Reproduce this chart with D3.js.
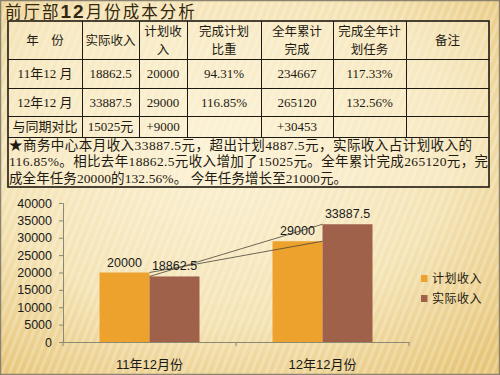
<!DOCTYPE html>
<html>
<head>
<meta charset="utf-8">
<script src="https://cdn.jsdelivr.net/npm/d3@7"></script>
<style>
  html, body { margin: 0; padding: 0; background: #f3e4b8; }
  svg { display: block; }
</style>
</head>
<body>
<svg id="chart"></svg>
<script>
// chart data
const categories = ["11年12月份", "12年12月份"];
const seriesNames = ["计划收入", "实际收入"];
const planned = [20000, 29000];
const actual = [18862.5, 33887.5];
const seriesColors = ["#eea22e", "#a0614b"];

// table data
const titleText = ["前厅部", "12", "月份成本分析"];
const tableHeader = [["年　份"], ["实际收入"], ["计划收", "入"], ["完成计划", "比重"], ["全年累计", "完成"], ["完成全年计", "划任务"], ["备注"]];
const tableRows = [
  ["11年12 月", "18862.5", "20000", "94.31%", "234667", "117.33%", ""],
  ["12年12 月", "33887.5", "29000", "116.85%", "265120", "132.56%", ""],
  ["与同期对比", "15025元", "+9000", "", "+30453", "", ""]
];
const noteLines = [
  "★商务中心本月收入33887.5元，超出计划4887.5元，实际收入占计划收入的",
  "116.85%。相比去年18862.5元收入增加了15025元。全年累计完成265120元，完",
  "成全年任务20000的132.56%。 今年任务增长至21000元。"
];

const width = 500, height = 375;
const cjk = "'Noto Sans CJK SC', sans-serif";
const tableFont = "'Liberation Serif', 'Noto Sans CJK SC', serif";
const chartFont = "'Liberation Sans', 'Noto Sans CJK SC', sans-serif";

const svg = d3.select("#chart")
  .attr("width", width)
  .attr("height", height)
  .attr("viewBox", [0, 0, width, height]);

// background: warm gradient + faint diagonal stripes
const defs = svg.append("defs");
const grad = defs.append("radialGradient")
  .attr("id", "bg").attr("cx", "45%").attr("cy", "40%").attr("r", "75%");
grad.append("stop").attr("offset", "0%").attr("stop-color", "#fbf1d3");
grad.append("stop").attr("offset", "60%").attr("stop-color", "#f4e3b4");
grad.append("stop").attr("offset", "100%").attr("stop-color", "#e7c67a");

const stripes = defs.append("pattern")
  .attr("id", "stripes").attr("width", 7).attr("height", 7)
  .attr("patternUnits", "userSpaceOnUse")
  .attr("patternTransform", "rotate(22)");
stripes.append("rect").attr("width", 3).attr("height", 7)
  .attr("fill", "#ffffff").attr("opacity", 0.22);

svg.append("rect").attr("width", width).attr("height", height).attr("fill", "url(#bg)");
svg.append("rect").attr("width", width).attr("height", height).attr("fill", "url(#stripes)");
svg.append("rect").attr("x", 0.5).attr("y", 0.5).attr("width", width - 1).attr("height", height - 1)
  .attr("fill", "none").attr("stroke", "#8c8270").attr("stroke-width", 1.5);

// title
const title = svg.append("text")
  .attr("x", 5).attr("y", 18)
  .attr("fill", "#33270f")
  .attr("font-family", cjk)
  .attr("font-size", 16.5)
  .attr("letter-spacing", 2);
titleText.forEach((t, i) => {
  title.append("tspan").text(t)
    .attr("font-family", i === 1 ? chartFont : cjk)
    .attr("font-weight", i === 1 ? "bold" : "normal")
    .attr("font-size", i === 1 ? 19 : 16.5);
});

// table
const colX = [8, 82, 139, 187, 261, 333, 406, 489];
const rowY = [21, 59, 88, 116, 137, 187];
const table = svg.append("g");

table.append("rect")
  .attr("x", colX[0]).attr("y", rowY[0])
  .attr("width", colX[7] - colX[0]).attr("height", rowY[5] - rowY[0])
  .attr("fill", "#fcf4da").attr("opacity", 0.35);

// horizontal lines
table.selectAll("line.h")
  .data(rowY.slice(1, -1))
  .join("line")
  .attr("x1", colX[0]).attr("x2", colX[7])
  .attr("y1", d => d + 0.5).attr("y2", d => d + 0.5)
  .attr("stroke", "#1e1a12").attr("stroke-width", 1);

// vertical lines (not through the notes row)
table.selectAll("line.v")
  .data(colX.slice(1, -1))
  .join("line")
  .attr("x1", d => d + 0.5).attr("x2", d => d + 0.5)
  .attr("y1", rowY[0]).attr("y2", rowY[4])
  .attr("stroke", "#1e1a12").attr("stroke-width", 1);

table.append("rect")
  .attr("x", colX[0]).attr("y", rowY[0])
  .attr("width", colX[7] - colX[0]).attr("height", rowY[5] - rowY[0])
  .attr("fill", "none").attr("stroke", "#1e1a12").attr("stroke-width", 1.6);

// header cells
tableHeader.forEach((lines, c) => {
  const cx = (colX[c] + colX[c + 1]) / 2;
  const cy = (rowY[0] + rowY[1]) / 2;
  lines.forEach((ln, i) => {
    table.append("text")
      .attr("x", cx)
      .attr("y", cy + (i - (lines.length - 1) / 2) * 18)
      .attr("dy", "0.36em")
      .attr("text-anchor", "middle")
      .attr("font-family", tableFont)
      .attr("font-size", 12.5)
      .attr("fill", "#1e1a12")
      .text(ln);
  });
});

// body cells
tableRows.forEach((row, r) => {
  const cy = (rowY[r + 1] + rowY[r + 2]) / 2;
  row.forEach((val, c) => {
    if (!val) return;
    table.append("text")
      .attr("x", (colX[c] + colX[c + 1]) / 2)
      .attr("y", cy)
      .attr("dy", "0.36em")
      .attr("text-anchor", "middle")
      .attr("font-family", tableFont)
      .attr("font-size", 13)
      .attr("fill", "#1e1a12")
      .text(val);
  });
});

// notes
const noteWidths = [463, 479, 338];
noteLines.forEach((ln, i) => {
  table.append("text")
    .attr("x", 9)
    .attr("y", 145 + i * 16.5)
    .attr("dy", "0.36em")
    .attr("font-family", tableFont)
    .attr("font-size", 13.5)
    .attr("fill", "#1e1a12")
    .attr("textLength", noteWidths[i])
    .attr("lengthAdjust", "spacing")
    .text(ln);
});

// bar chart
const plot = { left: 63, right: 409, top: 203, bottom: 342 };
const values = [planned, actual];

const x0 = d3.scaleBand()
  .domain(categories)
  .range([plot.left, plot.right])
  .paddingInner(0).paddingOuter(0);

const x1 = d3.scaleBand()
  .domain(seriesNames)
  .range([0, x0.bandwidth()])
  .paddingInner(0).paddingOuter(0.73);

const y = d3.scaleLinear()
  .domain([0, 40000])
  .range([plot.bottom, plot.top]);

const color = d3.scaleOrdinal().domain(seriesNames).range(seriesColors);

// y axis
const yAxis = svg.append("g")
  .attr("transform", `translate(${plot.left},0)`)
  .call(d3.axisLeft(y).ticks(8).tickSize(4).tickPadding(7).tickFormat(d3.format("d")));
yAxis.selectAll("text")
  .attr("font-family", chartFont).attr("font-size", 12.5).attr("fill", "#1a1a1a");
yAxis.selectAll("line, path").attr("stroke", "#8b8874");

// x axis
const xAxis = svg.append("g")
  .attr("transform", `translate(0,${plot.bottom})`)
  .call(d3.axisBottom(x0).tickSize(0).tickPadding(18));
xAxis.select("path").attr("stroke", "#8b8874");
xAxis.selectAll("text")
  .attr("font-family", chartFont).attr("font-size", 13).attr("fill", "#1a1a1a");
// boundary tick marks
xAxis.selectAll("line.bound")
  .data([plot.left, x0(categories[1]), plot.right])
  .join("line")
  .attr("class", "bound")
  .attr("x1", d => d).attr("x2", d => d)
  .attr("y1", 0).attr("y2", 4)
  .attr("stroke", "#8b8874");

// bars
const barData = [];
categories.forEach((cat, i) => {
  seriesNames.forEach((s, j) => barData.push({ cat, series: s, value: values[j][i] }));
});

svg.append("g")
  .selectAll("rect")
  .data(barData)
  .join("rect")
  .attr("x", d => x0(d.cat) + x1(d.series))
  .attr("y", d => y(d.value))
  .attr("width", x1.bandwidth())
  .attr("height", d => y(0) - y(d.value))
  .attr("fill", d => color(d.series));

// series lines between the groups
const seriesLines = [
  { x: c => x0(c) + x1(seriesNames[0]) + x1.bandwidth(), vals: planned },
  { x: c => x0(c) + x1(seriesNames[1]), vals: actual }
];
seriesLines.forEach(s => {
  svg.append("line")
    .attr("x1", s.x(categories[0])).attr("y1", y(s.vals[0]))
    .attr("x2", s.x(categories[1])).attr("y2", y(s.vals[1]))
    .attr("stroke", "#4a4538").attr("stroke-width", 0.8);
});

// value labels
svg.append("g")
  .selectAll("text")
  .data(barData)
  .join("text")
  .attr("x", d => x0(d.cat) + x1(d.series) + x1.bandwidth() / 2)
  .attr("y", d => y(d.value) - 6)
  .attr("text-anchor", "middle")
  .attr("font-family", chartFont)
  .attr("font-size", 12.5)
  .attr("fill", "#1a1a1a")
  .text(d => d.value);

// legend
const legend = svg.append("g")
  .selectAll("g")
  .data(seriesNames)
  .join("g")
  .attr("transform", (d, i) => `translate(421,${275 + i * 20})`);
legend.append("rect")
  .attr("width", 6.5).attr("height", 7)
  .attr("fill", d => color(d));
legend.append("text")
  .attr("x", 11).attr("y", 3.5).attr("dy", "0.36em")
  .attr("font-family", cjk).attr("font-size", 12).attr("fill", "#1e1a12")
  .attr("letter-spacing", 0.5)
  .text(d => d);
</script>
</body>
</html>
